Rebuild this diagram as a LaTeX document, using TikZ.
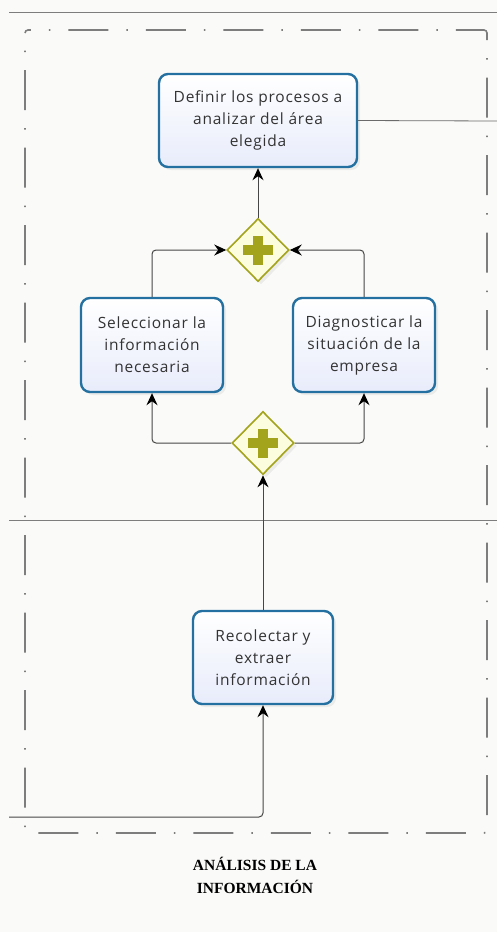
\documentclass[tikz,border=0pt]{standalone}
\usepackage{fontspec}
\setmainfont[LetterSpace=5]{Open Sans}
\newfontfamily\lanefont{Liberation Serif}
\usepackage{tikz}
\usetikzlibrary{shapes.geometric}
\usetikzlibrary{shadows}
\usetikzlibrary{arrows.meta}
\definecolor{taskblue}{RGB}{36,112,160}
\definecolor{taskfill}{RGB}{232,236,251}
\definecolor{gateolive}{RGB}{163,164,28}
\definecolor{gatefill}{RGB}{252,252,222}
\definecolor{flowgray}{RGB}{70,70,70}
\definecolor{lanegray}{RGB}{125,125,125}
\definecolor{paper}{RGB}{250,250,248}
\newcommand{\drawgateplus}[1]{
  \begin{scope}[shift={(#1)}]
  \fill[gateolive] (-15,-5) rectangle (15,5);
  \fill[gateolive] (-5,-14.5) rectangle (5,14.5);
  \end{scope}
}
\tikzset{
  task/.style={draw=taskblue, line width=2.4pt, rounded corners=9pt,
    top color=white, bottom color=taskfill, align=center, text=black!80,
    font=\fontsize{15.5}{22}\selectfont, inner sep=0pt,
    drop shadow={opacity=0.12,shadow xshift=3pt,shadow yshift=-3pt}},
  gate/.style={diamond, aspect=1, draw=gateolive, line width=1.6pt,
    fill=gatefill, minimum width=62pt, minimum height=63pt, inner sep=0pt,
    drop shadow={opacity=0.12,shadow xshift=3pt,shadow yshift=-3pt}},
  flow/.style={draw=flowgray, line width=1pt, rounded corners=4pt,
    -{Stealth[length=12pt,width=11pt,inset=4pt,color=black]}},
  lane/.style={draw=lanegray, line width=0.8pt},
  groupframe/.style={draw=lanegray, line width=1.6pt, rounded corners=3pt,
    dash pattern=on 40pt off 18pt on 1.5pt off 18pt, dash phase=40.5pt}
}
\begin{document}
\begin{tikzpicture}[x=1pt,y=-1pt]
      \useasboundingbox (0,0) rectangle (497,932);
      \fill[paper] (0,0) rectangle (497,932);

      % lanes and group
      \draw[lane] (9,12) -- (497,12);
      \draw[lane] (9,520) -- (497,520);
      \draw[groupframe] (25,30) rectangle (487,833);

      % tasks
      \node[task, minimum width=198pt, minimum height=93pt] (definir) at (258,120.5)
        {Definir los procesos a\\analizar del área\\elegida};
      \node[task, minimum width=142pt, minimum height=94pt] (seleccionar) at (152,345)
        {Seleccionar la\\información\\necesaria};
      \node[task, minimum width=142pt, minimum height=94pt] (diagnosticar) at (364,345)
        {Diagnosticar la\\situación de la\\empresa};
      \node[task, minimum width=140pt, minimum height=93pt] (recolectar) at (263,657.5)
        {Recolectar y\\extraer\\información};

      % gateways
      \node[gate] (gtop) at (258,250) {};
      \drawgateplus{gtop}
      \node[gate] (gbot) at (263,443) {};
      \drawgateplus{gbot}

      % flows
      \coordinate (inleft) at (9,817);
      \coordinate (outright) at (497,121);
      \draw[lane, draw=flowgray!80] (definir.east) -- (outright);
      \draw[flow] (gtop.north) -- (definir.south);
      \draw[flow] (seleccionar.north) |- (gtop.west);
      \draw[flow] (diagnosticar.north) |- (gtop.east);
      \draw[flow] (gbot.west) -| (seleccionar.south);
      \draw[flow] (gbot.east) -| (diagnosticar.south);
      \draw[flow] (recolectar.north) -- (gbot.south);
      \draw[flow] (inleft) -| (recolectar.south);

      \node[font=\lanefont\bfseries\fontsize{15.5}{23}\selectfont, align=center] (lanelabel) at (255,875)
        {ANÁLISIS DE LA\\INFORMACIÓN};
    \end{tikzpicture}
\end{document}
